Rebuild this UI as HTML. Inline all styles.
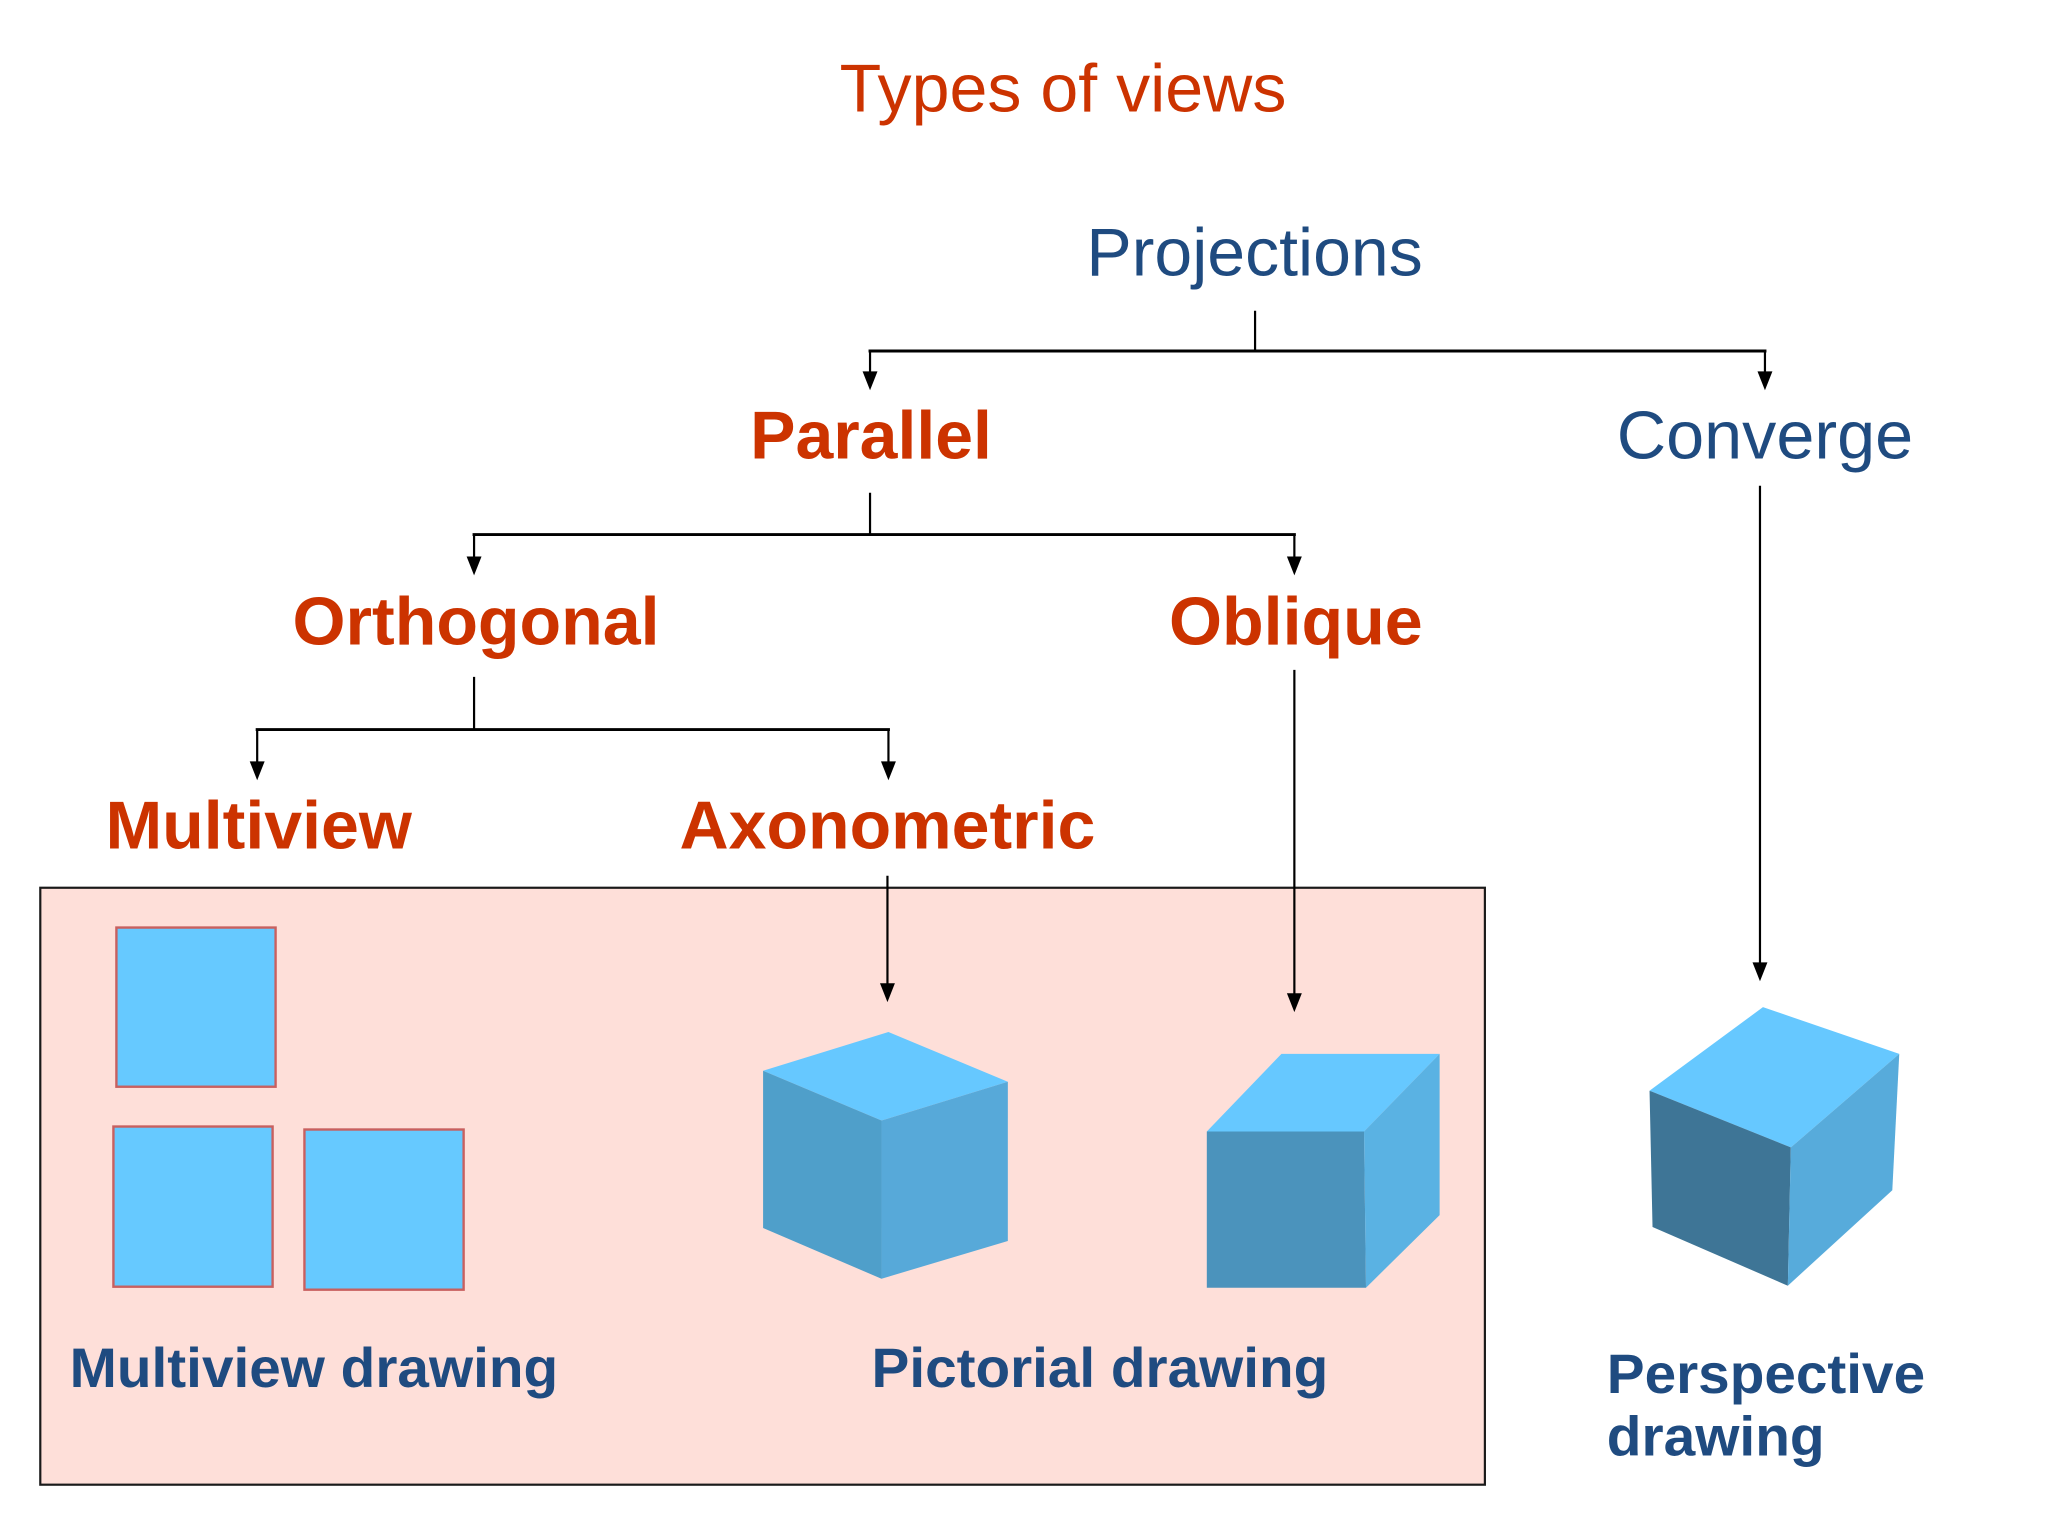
<!DOCTYPE html>
<html><head><meta charset="utf-8"><style>
html,body{margin:0;padding:0;background:#fff;width:2048px;height:1536px;overflow:hidden}
svg{display:block}
text{font-family:"Liberation Sans",Arial,sans-serif}
.r{fill:#cc3300}.b{fill:#1f4b80}.f{font-weight:bold}
</style></head><body>
<svg width="2048" height="1536" viewBox="0 0 2048 1536" xmlns="http://www.w3.org/2000/svg">
<g transform="translate(0,.3) scale(.9949)">
<rect x="40.5" y="892" width="1452" height="600" fill="#fedfd9" stroke="#1a1a1a" stroke-width="2.2"/>
<g fill="#66c9ff" stroke="#c8605f" stroke-width="2.4">
<rect x="117" y="932" width="160" height="160"/>
<rect x="114" y="1132" width="160" height="161"/>
<rect x="306" y="1135" width="160" height="161"/>
</g>
<polygon points="893,1037 1013,1087 886,1126 767,1076" fill="#66c8ff"/>
<polygon points="767,1076 886,1126 886,1285 767,1234" fill="#4f9fca"/>
<polygon points="886,1126 1013,1087 1013,1247 886,1285" fill="#57a9d9"/>
<polygon points="1288,1059 1447,1059 1371,1137 1213,1137" fill="#66c8ff"/>
<polygon points="1213,1137 1371,1137 1373,1294 1213,1294" fill="#4b93bc"/>
<polygon points="1371,1137 1447,1059 1447,1221 1373,1294" fill="#5ab2e3"/>
<polygon points="1772,1012 1909,1059 1800,1153 1658,1096" fill="#66c8ff"/>
<polygon points="1658,1096 1800,1153 1797,1292 1661,1233" fill="#3e7596"/>
<polygon points="1800,1153 1909,1059 1902,1196 1797,1292" fill="#57abdb"/>
<g stroke="#000" fill="none">
<path stroke-width="2.2" d="M1261.5 312V352M874.5 352V376M1774 352V376M874.5 495V537M476.5 537V562M1301 537V562M476.5 680V733M258.5 733V768M893 733V768M892 880V992M1301 673V1002M1769 488V972"/>
<path stroke-width="3" d="M873 352.5H1775.5M475 537H1302.5M257 733H894.5"/>
</g>
<g fill="#000">
<polygon points="867,373 882,373 874.5,392"/>
<polygon points="1766.5,373 1781.5,373 1774,392"/>
<polygon points="469,559 484,559 476.5,578"/>
<polygon points="1293.5,559 1308.5,559 1301,578"/>
<polygon points="251,765 266,765 258.5,784"/>
<polygon points="885.5,765 900.5,765 893,784"/>
<polygon points="884.5,988 899.5,988 892,1007"/>
<polygon points="1293.5,998 1308.5,998 1301,1017"/>
<polygon points="1761.5,967 1776.5,967 1769,986"/>
</g>
</g>
<g transform="translate(0,-1) scale(.9949)">
<g font-size="68">
<text class="r" x="844" y="113" textLength="449" lengthAdjust="spacingAndGlyphs">Types of views</text>
<text class="b" x="1092" y="278" textLength="338" lengthAdjust="spacingAndGlyphs">Projections</text>
<text class="b" x="1625" y="462" textLength="298" lengthAdjust="spacingAndGlyphs">Converge</text>
<text class="r f" x="754" y="462" textLength="243" lengthAdjust="spacingAndGlyphs">Parallel</text>
<text class="r f" x="294" y="649" textLength="369" lengthAdjust="spacingAndGlyphs">Orthogonal</text>
<text class="r f" x="1175" y="649" textLength="255" lengthAdjust="spacingAndGlyphs">Oblique</text>
<text class="r f" x="106" y="854" textLength="308" lengthAdjust="spacingAndGlyphs">Multiview</text>
<text class="r f" x="683" y="854" textLength="418" lengthAdjust="spacingAndGlyphs">Axonometric</text>
</g>
<g font-size="56">
<text class="b f" x="70" y="1395" textLength="491" lengthAdjust="spacingAndGlyphs">Multiview drawing</text>
<text class="b f" x="876" y="1395" textLength="459" lengthAdjust="spacingAndGlyphs">Pictorial drawing</text>
<text class="b f" x="1615" y="1401" textLength="320" lengthAdjust="spacingAndGlyphs">Perspective</text>
<text class="b f" x="1615" y="1464" textLength="219" lengthAdjust="spacingAndGlyphs">drawing</text>
</g>
</g>
</svg>
</body></html>
